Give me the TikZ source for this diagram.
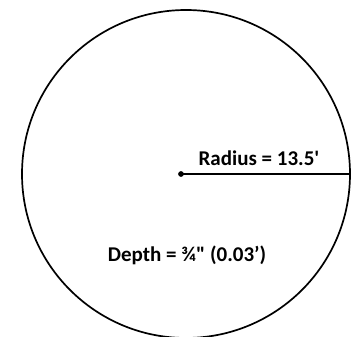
\documentclass[tikz,border=0pt]{standalone}
\usepackage{fontspec}
\setmainfont{Carlito}[Ligatures=TeXOff]
\begin{document}
\begin{tikzpicture}[x=1pt,y=-1pt,
    lbl/.style={font=\bfseries\fontsize{21}{23}\selectfont, inner sep=0pt}]
      \useasboundingbox (0,0) rectangle (354,337);
      \begin{scope}
      \clip (0,0) rectangle (354,337);
      % POOL
      \draw[line width=1.7pt] (186,174) circle (164)
      +(164,0) coordinate (rim)
      ;
      \end{scope}

      % CENTER
      \draw[fill] (181,174) circle (2.6)
      +(0,0)   node (c)  {}  % used to label the dot
      ;

      % LABELS
      \node[lbl] (rad) at (259,158) {Radius = 13.5'};
      \node[lbl] (dep) at (187,255) {Depth = ¾" (0.03’)};

      % RADIUS
      \draw[line width=1.4pt] (c.center) -- (rim);
    \end{tikzpicture}
\end{document}
